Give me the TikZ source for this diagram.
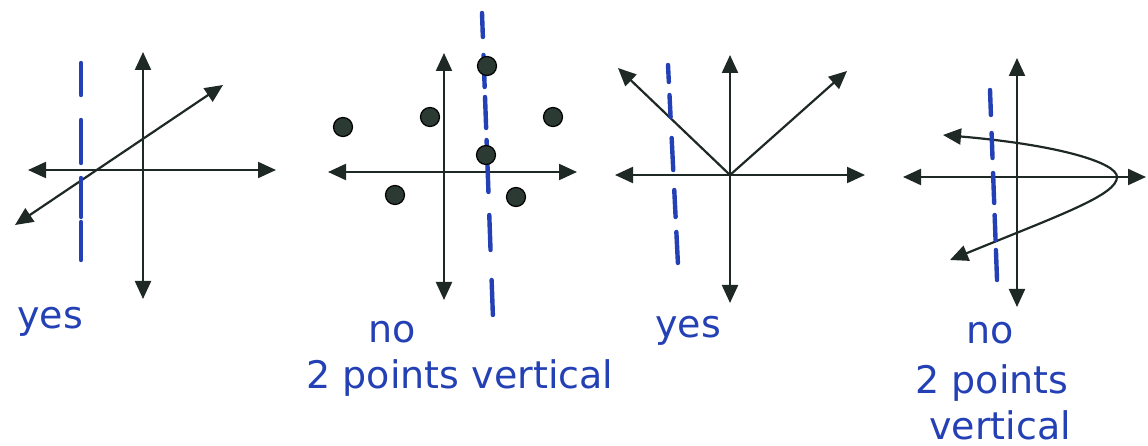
\documentclass[tikz,border=0pt]{standalone}
\usepackage{fontspec}
\setmainfont{DejaVu Sans}
\usetikzlibrary{arrows.meta, positioning}
\definecolor{penink}{HTML}{1E2824}
\definecolor{dotfill}{HTML}{2B3A33}
\definecolor{markerblue}{HTML}{2340B4}
\tikzset{
  axis/.style={draw=penink, line width=2.2pt,
               {Triangle[length=18pt, width=16pt]}-{Triangle[length=18pt, width=16pt]}},
  ray/.style={draw=penink, line width=2.2pt, -{Triangle[length=18pt, width=16pt]}},
  vline/.style={draw=markerblue, line width=4.4pt, line cap=round},
  dot/.style={circle, draw=black, fill=dotfill, line width=1.2pt,
              minimum size=19pt, inner sep=0pt},
  note/.style={text=markerblue, font=\fontsize{38}{44}\selectfont, inner sep=0pt},
}

\begin{document}
\begin{tikzpicture}[x=1pt, y=-1pt]
  \useasboundingbox (0,0) rectangle (1148,446);

  % graph 1: slanted line
  \coordinate (oA) at (143,170);
  \draw[axis] (28,170) -- (276,170);
  \draw[axis] (143,52) -- (143,299);
  \draw[axis] (15,225) -- (223,85);
  \foreach \a/\b in {63/95, 120/163, 178/217, 222/260}
    \draw[vline] (81,\a) -- (81,\b);
  \node[note, anchor=base] (yesA) at (50,328) {yes};

  % graph 2: scattered points
  \coordinate (oB) at (444,172);
  \draw[axis] (328,172) -- (577,172);
  \draw[axis] (444,53) -- (444,300);
  \foreach \a/\b in {13/37, 55/87, 97/128, 140/192, 215/250, 280/315}
    \draw[vline] ({482+0.036*(\a-13)},\a) -- ({482+0.036*(\b-13)},\b);
  \node[dot] (pA) at (343,127) {};
  \node[dot] (pB) at (430,117) {};
  \node[dot] (pC) at (487,66) {};
  \node[dot] (pD) at (553,117) {};
  \node[dot] (pE) at (486,155) {};
  \node[dot] (pF) at (395,195) {};
  \node[dot] (pG) at (516,197) {};
  \node[note, anchor=base] (noB) at (392,342) {no};
  \node[note, anchor=base] (whyB) at (460,388) {2 points vertical};

  % graph 3: absolute value
  \coordinate (oC) at (730,175);
  \draw[axis] (615,175) -- (865,175);
  \draw[axis] (730,55) -- (730,303);
  \draw[ray] (oC) -- (618,68);
  \draw[ray] (oC) -- (847,71);
  \foreach \a/\b in {65/82, 95/117, 138/170, 190/217, 232/263}
    \draw[vline] ({668+0.05*(\a-65)},\a) -- ({668+0.05*(\b-65)},\b);
  \node[note, anchor=base] (yesC) at (688,337) {yes};

  % graph 4: sideways parabola
  \coordinate (oD) at (1017,177);
  \draw[axis] (903,177) -- (1146,177);
  \draw[axis] (1017,58) -- (1017,307);
  \draw[axis] (943,135) .. controls (1060,145) and (1117,163) .. (1117,177)
                        .. controls (1117,195) and (1060,215) .. (950,260);
  \foreach \a/\b in {90/115, 133/158, 173/203, 215/240, 250/280}
    \draw[vline] ({990+0.037*(\a-90)},\a) -- ({990+0.037*(\b-90)},\b);
  \node[note, anchor=base] (noD) at (990,343) {no};
  \node[note, anchor=base] (whyD) at (992,393) {2 points};
  \node[note, anchor=base] (whyDb) at (1000,439) {vertical};
\end{tikzpicture}
\end{document}
